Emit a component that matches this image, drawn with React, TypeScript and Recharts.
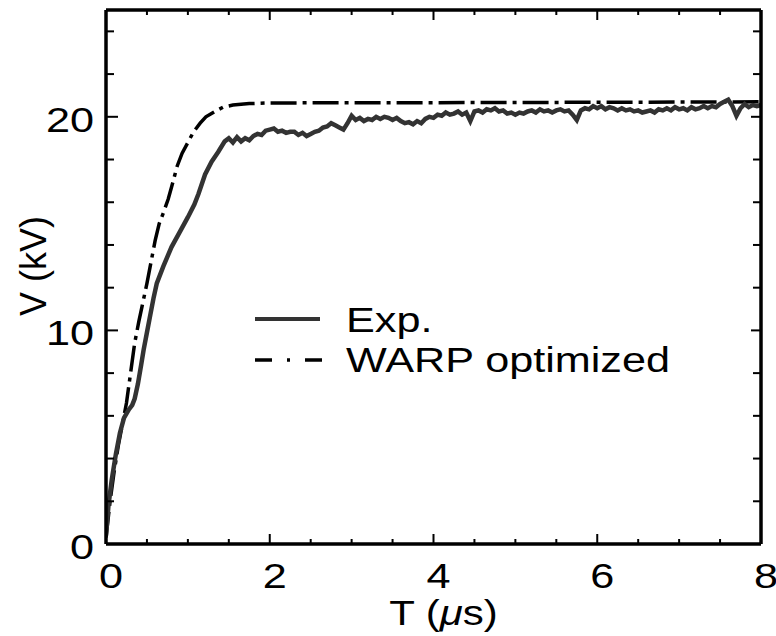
import React from "react";
import { LineChart, Line, XAxis, YAxis, Legend } from "recharts";

// ---- Data ----
const expT = [
  0, 0.03, 0.07, 0.12, 0.17, 0.22, 0.28, 0.32, 0.35, 0.39, 0.43, 0.46, 0.5, 0.54, 0.58, 0.62,
  0.7, 0.8, 0.9, 1.0, 1.08, 1.13, 1.21, 1.29, 1.37, 1.45,
  1.5, 1.55, 1.6, 1.65, 1.7, 1.75, 1.8, 1.85, 1.9, 1.95,
  2.0, 2.05, 2.1, 2.15, 2.2, 2.25, 2.3, 2.35, 2.4, 2.45,
  2.5, 2.55, 2.6, 2.65, 2.7, 2.75, 2.8, 2.85, 2.9, 2.95,
  3.0, 3.05, 3.1, 3.15, 3.2, 3.25, 3.3, 3.35, 3.4, 3.45,
  3.5, 3.55, 3.6, 3.65, 3.7, 3.75, 3.8, 3.85, 3.9, 3.95,
  4.0, 4.05, 4.1, 4.15, 4.2, 4.25, 4.3, 4.35, 4.4, 4.45,
  4.5, 4.55, 4.6, 4.65, 4.7, 4.75, 4.8, 4.85, 4.9, 4.95,
  5.0, 5.05, 5.1, 5.15, 5.2, 5.25, 5.3, 5.35, 5.4, 5.45,
  5.5, 5.55, 5.6, 5.65, 5.7, 5.75, 5.8, 5.85, 5.9, 5.95,
  6.0, 6.05, 6.1, 6.15, 6.2, 6.25, 6.3, 6.35, 6.4, 6.45,
  6.5, 6.55, 6.6, 6.65, 6.7, 6.75, 6.8, 6.85, 6.9, 6.95,
  7.0, 7.05, 7.1, 7.15, 7.2, 7.25, 7.3, 7.35, 7.4, 7.45,
  7.5, 7.55, 7.6, 7.65, 7.7, 7.75, 7.8, 7.85, 7.9, 7.95, 8.0,
];
const expV = [
  0.4, 1.8, 3.0, 4.2, 5.2, 5.9, 6.3, 6.5, 6.8, 7.5, 8.4, 9.1, 9.9, 10.7, 11.5, 12.2,
  13.0, 13.9, 14.6, 15.3, 15.9, 16.4, 17.3, 17.9, 18.35, 18.85,
  19.0, 18.8, 19.05, 18.85, 19.0, 18.9, 19.1, 19.2, 19.15, 19.35,
  19.4, 19.45, 19.3, 19.35, 19.25, 19.3, 19.3, 19.15, 19.25, 19.1,
  19.2, 19.3, 19.35, 19.5, 19.55, 19.7, 19.6, 19.5, 19.4, 19.7,
  20.05, 19.85, 19.95, 19.8, 19.9, 19.85, 20.0, 19.9, 20.0, 19.95,
  19.85, 19.95, 19.8, 19.7, 19.75, 19.65, 19.8, 19.7, 19.9, 20.0,
  19.95, 20.1, 20.05, 20.2, 20.1, 20.15, 20.25, 20.1, 20.2, 19.8,
  20.25, 20.3, 20.2, 20.35, 20.3, 20.4, 20.25, 20.3, 20.15, 20.2,
  20.1, 20.2, 20.15, 20.25, 20.3, 20.2, 20.35, 20.25, 20.3, 20.2,
  20.3, 20.35, 20.25, 20.3, 20.1, 19.85, 20.3, 20.4, 20.35, 20.5,
  20.4, 20.5, 20.35, 20.45, 20.4, 20.3, 20.4, 20.3, 20.35, 20.25,
  20.3, 20.2, 20.25, 20.3, 20.2, 20.35, 20.3, 20.4, 20.3, 20.45,
  20.35, 20.4, 20.3, 20.45, 20.35, 20.4, 20.5, 20.4, 20.5, 20.45,
  20.6, 20.7, 20.8, 20.5, 20.05, 20.4, 20.6, 20.45, 20.55, 20.5, 20.55,
];

const warpT = [
  0, 0.05, 0.1, 0.15, 0.2, 0.25, 0.3, 0.35, 0.4, 0.45, 0.5, 0.55, 0.6, 0.65, 0.7, 0.76,
  0.8, 0.87, 0.93, 1.0, 1.07, 1.15, 1.22, 1.33, 1.43, 1.55, 1.75, 2.0, 4.0, 6.0, 8.0,
];
const warpV = [
  0.3, 2.0, 3.4, 4.6, 5.6, 6.6, 8.0, 9.4, 10.4, 11.3, 12.2, 13.2, 14.2, 15.0, 15.5, 16.15,
  16.7, 17.7, 18.3, 18.8, 19.3, 19.7, 20.0, 20.25, 20.45, 20.55, 20.62, 20.65, 20.66, 20.68, 20.7,
];

const xTicks = [0, 0.5, 1, 1.5, 2, 2.5, 3, 3.5, 4, 4.5, 5, 5.5, 6, 6.5, 7, 7.5, 8];
const yTicks = [0, 2, 4, 6, 8, 10, 12, 14, 16, 18, 20, 22, 24];
const xLabelTicks = [0, 2, 4, 6, 8];
const yLabelTicks = [0, 10, 20];

const seriesNames = ["Exp.", "WARP optimized"];

const expData = expT.map((t, i) => ({ t, v: expV[i] }));
const warpData = warpT.map((t, i) => ({ t, v: warpV[i] }));

const FONT = "'Liberation Sans', Arial, Helvetica, sans-serif";

const BottomTick = (props: any) => {
  const { x, y, payload } = props;
  const v = payload.value;
  const major = xLabelTicks.includes(v);
  return (
    <g>
      <line x1={x} x2={x} y1={y} y2={y - (major ? 10 : 5)} stroke="#000" strokeWidth={2} />
      {major && (
        <text
          transform={`translate(${x + 5},${y + 44}) scale(1.2,1)`}
          textAnchor="middle"
          fontSize={36}
          fontFamily={FONT}
          fill="#000"
        >
          {v}
        </text>
      )}
    </g>
  );
};

const TopTick = (props: any) => {
  const { x, y, payload } = props;
  const major = xLabelTicks.includes(payload.value);
  return <line x1={x} x2={x} y1={y} y2={y + (major ? 10 : 5)} stroke="#000" strokeWidth={2} />;
};

const LeftTick = (props: any) => {
  const { x, y, payload } = props;
  const v = payload.value;
  const major = yLabelTicks.includes(v);
  return (
    <g>
      <line x1={x} x2={x + (major ? 12 : 8)} y1={y} y2={y} stroke="#000" strokeWidth={2} />
      {major && (
        <text
          transform={`translate(${x - 12},${y + 15}) scale(1.2,1)`}
          textAnchor="end"
          fontSize={36}
          fontFamily={FONT}
          fill="#000"
        >
          {v}
        </text>
      )}
    </g>
  );
};

const RightTick = (props: any) => {
  const { x, y, payload } = props;
  const major = yLabelTicks.includes(payload.value);
  return <line x1={x} x2={x - (major ? 10 : 8)} y1={y} y2={y} stroke="#000" strokeWidth={2} />;
};

const XLabel = (props: any) => {
  const vb = props.viewBox || { x: 106, y: 544, width: 655, height: 60 };
  const cx = vb.x + vb.width / 2 + 10;
  const by = vb.y + 81;
  return (
    <text
      transform={`translate(${cx},${by}) scale(1.2,1)`}
      textAnchor="middle"
      fontSize={35}
      fontFamily={FONT}
      fill="#000"
    >
      T (<tspan fontStyle="italic">μ</tspan>s)
    </text>
  );
};

const YLabel = (props: any) => {
  const vb = props.viewBox || { x: 46, y: 10, width: 60, height: 534 };
  const bx = vb.x;
  const cy = 266;
  return (
    <text
      transform={`translate(${bx},${cy}) rotate(-90)`}
      textAnchor="middle"
      fontSize={36}
      fontFamily={FONT}
      fill="#000"
    >
      V (kV)
    </text>
  );
};

const LegendContent = () => (
  <svg width={480} height={100} style={{ display: "block" }}>
    <line x1={15} x2={80} y1={29} y2={29} stroke="#333" strokeWidth={4} />
    <text transform="translate(106,42) scale(1.2,1)" fontSize={36} fontFamily={FONT} fill="#000">
      {seriesNames[0]}
    </text>
    <line
      x1={15}
      x2={82}
      y1={70}
      y2={70}
      stroke="#000"
      strokeWidth={3.5}
      strokeDasharray="17 15 3 15"
    />
    <text transform="translate(106,82) scale(1.2,1)" fontSize={36} fontFamily={FONT} fill="#000">
      {seriesNames[1]}
    </text>
  </svg>
);

const axisLineStyle = { stroke: "#000", strokeWidth: 3.5 };

export default function App() {
  return (
    <div style={{ position: "absolute", left: 0, top: 0, width: 776, height: 636, background: "#fff" }}>
      <LineChart
        width={776}
        height={636}
        margin={{ top: 8, right: 13, bottom: 32, left: 46 }}
      >
        <XAxis
          xAxisId="b"
          type="number"
          dataKey="t"
          domain={[0, 8]}
          ticks={xTicks}
          interval={0}
          orientation="bottom"
          height={60}
          tickSize={0}
          tickMargin={0}
          tickLine={false}
          tick={<BottomTick />}
          axisLine={axisLineStyle}
          stroke="#000"
          allowDataOverflow
          label={<XLabel />}
        />
        <XAxis
          xAxisId="t"
          type="number"
          dataKey="t"
          domain={[0, 8]}
          ticks={xTicks}
          interval={0}
          orientation="top"
          height={2}
          tickSize={0}
          tickMargin={0}
          tickLine={false}
          tick={<TopTick />}
          axisLine={axisLineStyle}
          stroke="#000"
          allowDataOverflow
        />
        <YAxis
          yAxisId="l"
          type="number"
          domain={[0, 25]}
          ticks={yTicks}
          interval={0}
          orientation="left"
          width={60}
          tickSize={0}
          tickMargin={0}
          tickLine={false}
          tick={<LeftTick />}
          axisLine={axisLineStyle}
          stroke="#000"
          allowDataOverflow
          label={<YLabel />}
        />
        <YAxis
          yAxisId="r"
          type="number"
          domain={[0, 25]}
          ticks={yTicks}
          interval={0}
          orientation="right"
          width={2}
          tickSize={0}
          tickMargin={0}
          tickLine={false}
          tick={<RightTick />}
          axisLine={axisLineStyle}
          stroke="#000"
          allowDataOverflow
        />
        <Line
          xAxisId="b"
          yAxisId="l"
          data={warpData}
          dataKey="v"
          name={seriesNames[1]}
          type="linear"
          stroke="#000"
          strokeWidth={3.5}
          strokeDasharray="26 6 4 6"
          dot={false}
          activeDot={false}
          isAnimationActive={false}
        />
        <Line
          xAxisId="b"
          yAxisId="l"
          data={expData}
          dataKey="v"
          name={seriesNames[0]}
          type="linear"
          stroke="#333"
          strokeWidth={4.5}
          dot={false}
          activeDot={false}
          isAnimationActive={false}
        />
        <Legend
          layout="horizontal"
          verticalAlign="middle"
          align="center"
          content={<LegendContent />}
          wrapperStyle={{ position: "absolute", left: 240, top: 290, width: 480, height: 100 }}
        />
      </LineChart>
    </div>
  );
}
